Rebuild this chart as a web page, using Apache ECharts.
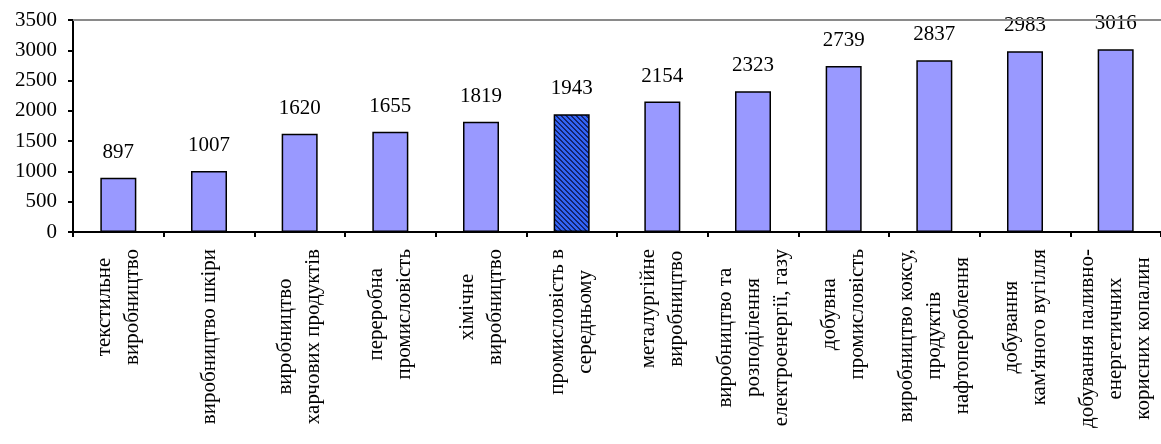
<!DOCTYPE html>
<html>
<head>
<meta charset="utf-8">
<script src="https://cdn.jsdelivr.net/npm/echarts@6/dist/echarts.min.js"></script>
<style>
html,body{margin:0;padding:0;background:#fff;}
#chart{width:1161px;height:444px;}
</style>
</head>
<body>
<div id="chart"></div>
<script>
const categories = [
  "текстильне\nвиробництво",
  "виробництво шкіри",
  "виробництво\nхарчових продуктів",
  "переробна\nпромисловість",
  "хімічне\nвиробництво",
  "промисловість в\nсередньому",
  "металургійне\nвиробництво",
  "виробництво та\nрозподілення\nелектроенергії, газу",
  "добувна\nпромисловість",
  "виробництво коксу,\nпродуктів\nнафтопероблення",
  "добування\nкам'яного вугілля",
  "добування паливно-\nенергетичних\nкорисних копалин"
];
const values = [897, 1007, 1620, 1655, 1819, 1943, 2154, 2323, 2739, 2837, 2983, 3016];
const highlightIndex = 5;
const yTicks = [0, 500, 1000, 1500, 2000, 2500, 3000, 3500];

const FONT = "Liberation Serif";

// hatch pattern for highlighted bar
const pc = document.createElement('canvas');
const S = 5;
pc.width = S; pc.height = S;
const pctx = pc.getContext('2d');
const img = pctx.createImageData(S, S);
for (let y = 0; y < S; y++) {
  for (let x = 0; x < S; x++) {
    const d = ((x - y) % S + S) % S;
    const i = (y * S + x) * 4;
    if (d === 0 || d === 1) {
      img.data[i] = 20; img.data[i+1] = 35; img.data[i+2] = 110;
    } else {
      img.data[i] = 50; img.data[i+1] = 100; img.data[i+2] = 245;
    }
    img.data[i+3] = 255;
  }
}
pctx.putImageData(img, 0, 0);

const seriesData = values.map((v, i) => {
  if (i === highlightIndex) {
    return { value: v, itemStyle: { color: { image: pc, repeat: 'repeat' } } };
  }
  return v;
});

const chart = echarts.init(document.getElementById('chart'), null, { renderer: 'canvas' });
chart.setOption({
  animation: false,
  backgroundColor: '#ffffff',
  grid: { left: 73, right: 0, top: 20, bottom: 212, containLabel: false },
  xAxis: {
    type: 'category',
    data: categories,
    boundaryGap: true,
    axisLine: { lineStyle: { color: '#000', width: 2 } },
    axisTick: { show: true, length: 5, inside: false, lineStyle: { color: '#000', width: 2 } },
    axisLabel: {
      interval: 0,
      rotate: 90,
      margin: 17,
      formatter: function (v) {
        return v.split('\n').map(s => '{c|' + s + '}').join('\n');
      },
      rich: {
        c: { align: 'center', fontFamily: FONT, fontSize: 21, lineHeight: 28, color: '#000' }
      }
    }
  },
  yAxis: {
    type: 'value',
    min: yTicks[0],
    max: yTicks[yTicks.length - 1],
    interval: 500,
    axisLine: { show: true, lineStyle: { color: '#000', width: 2 } },
    axisTick: { show: true, length: 5, lineStyle: { color: '#000', width: 2 } },
    axisLabel: { fontFamily: FONT, fontSize: 21, color: '#000', margin: 16,
      formatter: function (v) { return String(v); } },
    splitLine: { show: false }
  },
  series: [{
    type: 'bar',
    data: seriesData,
    barWidth: 36,
    itemStyle: { color: '#9999ff', borderColor: '#000', borderWidth: 1.5 },
    label: {
      show: true,
      position: 'top',
      distance: 15,
      fontFamily: FONT,
      fontSize: 21,
      color: '#000'
    },
    markLine: {
      silent: true,
      symbol: ['none', 'none'],
      label: { show: false },
      lineStyle: { color: '#8a8a8a', width: 2, type: 'solid' },
      data: [{ yAxis: yTicks[yTicks.length - 1] }]
    }
  }]
});
</script>
</body>
</html>
